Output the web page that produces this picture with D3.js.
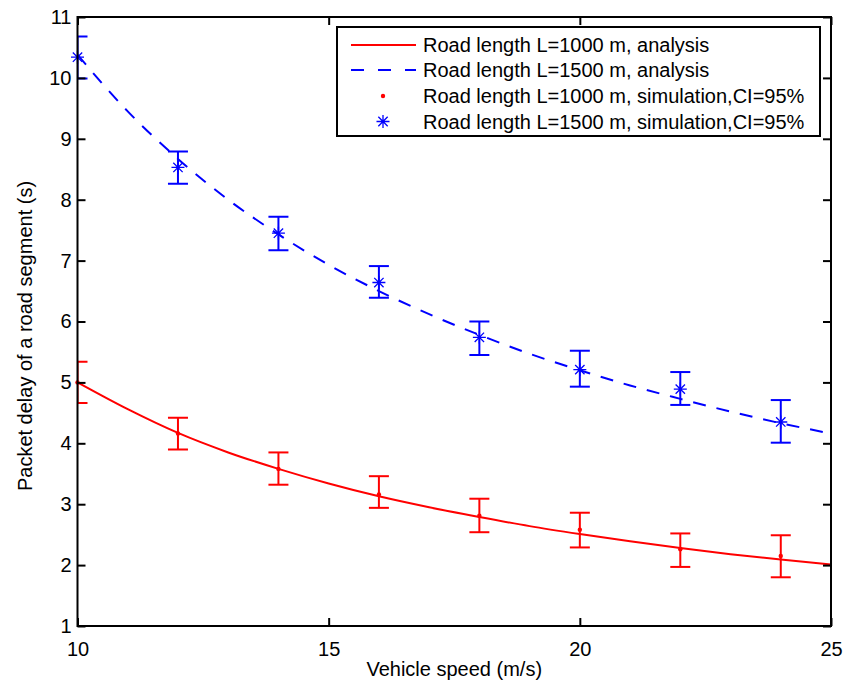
<!DOCTYPE html>
<html>
<head>
<meta charset="utf-8">
<script src="https://cdn.jsdelivr.net/npm/d3@7"></script>
<style>
  html, body { margin: 0; padding: 0; background: #fff; }
  svg { display: block; }
  text { font-family: Arial, "Liberation Sans", Helvetica, sans-serif; fill: #000; }
</style>
</head>
<body>
<svg id="chart" width="858" height="690"></svg>
<script>
// ---------------- data ----------------
const speeds = [10, 11, 12, 13, 14, 15, 16, 17, 18, 19, 20, 21, 22, 23, 24, 25];
const analysis1000 = [5.00, 4.56, 4.17, 3.85, 3.58, 3.34, 3.13, 2.95, 2.79, 2.64, 2.51, 2.39, 2.28, 2.18, 2.09, 2.01];
const analysis1500 = [10.38, 9.45, 8.67, 8.00, 7.43, 6.93, 6.50, 6.12, 5.78, 5.47, 5.20, 4.95, 4.73, 4.52, 4.33, 4.16];

const simSpeeds = [10, 12, 14, 16, 18, 20, 22, 24];
const sim1000   = [5.00, 4.16, 3.58, 3.16, 2.81, 2.58, 2.26, 2.15];
const sim1000Lo = [4.66, 3.90, 3.32, 2.94, 2.54, 2.29, 1.97, 1.80];
const sim1000Hi = [5.34, 4.42, 3.85, 3.46, 3.09, 2.86, 2.52, 2.49];
const sim1500   = [10.34, 8.53, 7.45, 6.64, 5.74, 5.21, 4.89, 4.35];
const sim1500Lo = [9.99, 8.26, 7.17, 6.39, 5.45, 4.93, 4.63, 4.01];
const sim1500Hi = [10.68, 8.79, 7.72, 6.91, 6.00, 5.52, 5.17, 4.71];

const xTicks = [10, 15, 20, 25];
const yTicks = [1, 2, 3, 4, 5, 6, 7, 8, 9, 10, 11];
const xLabel = "Vehicle speed (m/s)";
const yLabel = "Packet delay of a road segment (s)";
const legendLabels = [
  "Road length L=1000 m, analysis",
  "Road length L=1500 m, analysis",
  "Road length L=1000 m, simulation,CI=95%",
  "Road length L=1500 m, simulation,CI=95%"
];

// ---------------- layout ----------------
const pL = 77.5, pR = 831, pT = 17, pB = 626;
const RED = "#ff0000", BLUE = "#0000ff";
const svg = d3.select("#chart");

const x = d3.scaleLinear().domain([10, 25]).range([pL, pR]);
const y = d3.scaleLinear().domain([1, 11]).range([pB, pT]);

svg.append("defs").append("clipPath").attr("id", "plotclip")
  .append("rect").attr("x", pL).attr("y", pT)
  .attr("width", pR - pL).attr("height", pB - pT);

const plot = svg.append("g");
const clipped = plot.append("g").attr("clip-path", "url(#plotclip)");

// analysis lines
const line = d3.line().x(d => x(d[0])).y(d => y(d[1])).curve(d3.curveMonotoneX);
clipped.append("path")
  .datum(speeds.map((s, i) => [s, analysis1000[i]]))
  .attr("d", line).attr("fill", "none").attr("stroke", RED).attr("stroke-width", 2);
clipped.append("path")
  .datum(speeds.map((s, i) => [s, analysis1500[i]]))
  .attr("d", line).attr("fill", "none").attr("stroke", BLUE).attr("stroke-width", 2)
  .attr("stroke-dasharray", "13,11");

// error bars
function errorBars(lo, hi, color) {
  const g = clipped.append("g").attr("stroke", color).attr("stroke-width", 2).attr("fill", "none");
  simSpeeds.forEach((s, i) => {
    const cx = x(s), y1 = y(lo[i]), y2 = y(hi[i]);
    g.append("line").attr("x1", cx).attr("x2", cx).attr("y1", y1).attr("y2", y2);
    g.append("line").attr("x1", cx - 10).attr("x2", cx + 10).attr("y1", y1).attr("y2", y1);
    g.append("line").attr("x1", cx - 10).attr("x2", cx + 10).attr("y1", y2).attr("y2", y2);
  });
}
errorBars(sim1000Lo, sim1000Hi, RED);
errorBars(sim1500Lo, sim1500Hi, BLUE);

// markers
function star(g, cx, cy, r) {
  const d = r * 0.72;
  const p = `M${cx - r},${cy}L${cx + r},${cy}M${cx},${cy - r}L${cx},${cy + r}` +
            `M${cx - d},${cy - d}L${cx + d},${cy + d}M${cx - d},${cy + d}L${cx + d},${cy - d}`;
  g.append("path").attr("d", p).attr("stroke", BLUE).attr("stroke-width", 1.3).attr("fill", "none");
}
const mk = plot.append("g");
simSpeeds.forEach((s, i) => {
  mk.append("circle").attr("cx", x(s)).attr("cy", y(sim1000[i])).attr("r", 2.2).attr("fill", RED);
  star(mk, x(s), y(sim1500[i]), 6.5);
});

// axes (ticks inward, mirrored)
const axG = svg.append("g");
const bAx = axG.append("g").attr("transform", `translate(0,${pB})`)
  .call(d3.axisBottom(x).tickValues(xTicks).tickSize(-8).tickPadding(16).tickFormat(d3.format("d")));
const tAx = axG.append("g").attr("transform", `translate(0,${pT})`)
  .call(d3.axisTop(x).tickValues(xTicks).tickSize(-8).tickFormat(""));
const lAx = axG.append("g").attr("transform", `translate(${pL},0)`)
  .call(d3.axisLeft(y).tickValues(yTicks).tickSize(-8).tickPadding(6).tickFormat(d3.format("d")));
const rAx = axG.append("g").attr("transform", `translate(${pR},0)`)
  .call(d3.axisRight(y).tickValues(yTicks).tickSize(-8).tickFormat(""));
[bAx, tAx, lAx, rAx].forEach(a => {
  a.select(".domain").remove();
  a.attr("font-size", 20).attr("font-family", "Arial, 'Liberation Sans', sans-serif");
  a.selectAll(".tick line").attr("stroke", "#000").attr("stroke-width", 2);
  a.selectAll("text").attr("font-size", 20).attr("fill", "#000");
});
svg.append("rect").attr("x", pL).attr("y", pT)
  .attr("width", pR - pL).attr("height", pB - pT)
  .attr("fill", "none").attr("stroke", "#000").attr("stroke-width", 2);

// axis labels
svg.append("text").attr("x", (pL + pR) / 2).attr("y", 676)
  .attr("text-anchor", "middle").attr("font-size", 20).text(xLabel);
svg.append("text").attr("transform", "translate(32,336) rotate(-90)")
  .attr("text-anchor", "middle").attr("font-size", 20).text(yLabel);

// legend
const lg = svg.append("g");
lg.append("rect").attr("x", 337).attr("y", 27).attr("width", 483).attr("height", 109)
  .attr("fill", "#fff").attr("stroke", "#000").attr("stroke-width", 2);
const rows = [45, 70, 96, 121.5];
lg.append("line").attr("x1", 351).attr("x2", 416).attr("y1", rows[0]).attr("y2", rows[0])
  .attr("stroke", RED).attr("stroke-width", 2);
lg.append("line").attr("x1", 351).attr("x2", 416).attr("y1", rows[1]).attr("y2", rows[1])
  .attr("stroke", BLUE).attr("stroke-width", 2).attr("stroke-dasharray", "13,14");
lg.append("circle").attr("cx", 383).attr("cy", rows[2]).attr("r", 2.2).attr("fill", RED);
star(lg, 383, rows[3], 6.5);
legendLabels.forEach((t, i) => {
  lg.append("text").attr("x", 423).attr("y", rows[i]).attr("dy", "0.35em")
    .attr("font-size", 20).text(t);
});
</script>
</body>
</html>
